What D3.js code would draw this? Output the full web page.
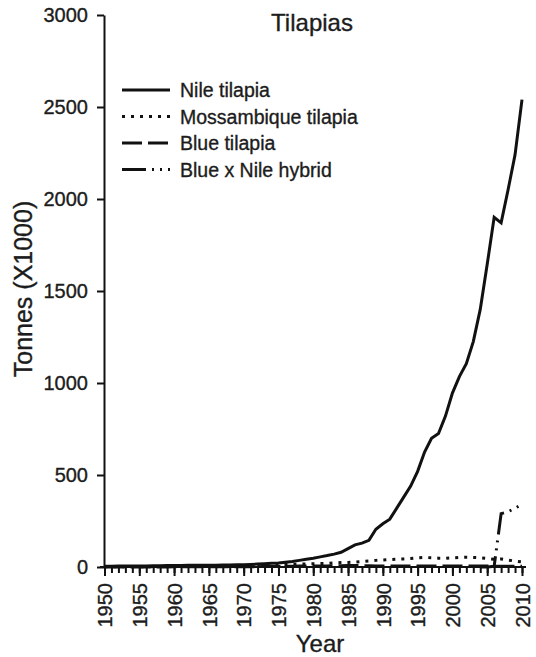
<!DOCTYPE html>
<html>
<head>
<meta charset="utf-8">
<script src="https://cdn.jsdelivr.net/npm/d3@7"></script>
<style>
  body { margin: 0; background: #fff; }
  text { font-family: "Liberation Sans", Arial, sans-serif; fill: #1c1c1c; stroke: #1c1c1c; stroke-width: 0.35px; }
  .axis path, .axis line { stroke: #111; stroke-width: 2px; }
  .line { fill: none; stroke: #111; stroke-width: 3px; }
</style>
</head>
<body>
<div id="chart"></div>
<script>
// Data (tonnes x1000)
var years = [1950,1951,1952,1953,1954,1955,1956,1957,1958,1959,
  1960,1961,1962,1963,1964,1965,1966,1967,1968,1969,
  1970,1971,1972,1973,1974,1975,1976,1977,1978,1979,
  1980,1981,1982,1983,1984,1985,1986,1987,1988,1989,
  1990,1991,1992,1993,1994,1995,1996,1997,1998,1999,
  2000,2001,2002,2003,2004,2005,2006,2007,2008,2009,2010]

var nile = [4,4,5,5,5,6,6,7,7,8,
  8,8,9,9,10,10,10,11,11,12,
  12,14,16,18,20,22,26,30,36,42,
  48,55,62,70,80,100,120,130,145,205,
  235,260,320,380,440,520,625,700,725,820,
  945,1035,1105,1225,1400,1645,1900,1870,2050,2240,2540]

var mossambique = [1,1,1,1,2,2,2,2,3,3,
  3,3,4,4,4,5,5,5,6,6,
  7,8,9,10,10,12,13,14,16,17,
  18,19,20,22,24,25,27,30,33,36,
  38,40,42,44,46,50,52,50,48,47,
  50,52,53,52,50,46,42,44,38,32,28]

var blue = [0,0,0,0,0,0,0,0,0,0,
  1,1,1,1,1,1,1,1,1,1,
  2,2,2,3,3,3,4,4,5,5,
  5,6,6,7,7,8,8,7,7,6,
  6,6,5,5,5,5,5,5,5,5,
  5,5,5,5,5,5,4,4,4,4,4]

var hybridYears = [2004,2005,2006,2007,2008,2009,2010]
var hybrid = [0,0,4,290,300,320,340]

var yTicks = [0,500,1000,1500,2000,2500,3000]
var xLabelTicks = [1950,1955,1960,1965,1970,1975,1980,1985,1990,1995,2000,2005,2010]

var seriesNames = ["Nile tilapia", "Mossambique tilapia", "Blue tilapia", "Blue x Nile hybrid"]
var dashes = [null, "3,6", "20,6", "24,6,2,6,2,6"]

var width = 536,
  height = 657,
  margin = {top: 15, right: 14, bottom: 90, left: 104}

var svg = d3.select("#chart")
  .append("svg")
  .attr("width", width)
  .attr("height", height)

// Scales
var xScale = d3.scaleLinear()
  .domain([1950, 2010])
  .range([margin.left + 0.5, width - margin.right])

var yScale = d3.scaleLinear()
  .domain([0, 3000])
  .range([height - margin.bottom, margin.top])

// Y axis
svg.append("g")
  .attr("class", "axis y-axis")
  .attr("transform", `translate(${margin.left},0)`)
  .call(d3.axisLeft(yScale).tickValues(yTicks).tickSize(7).tickSizeOuter(0).tickPadding(9).tickFormat(d => d))
  .selectAll("text")
  .style("font-size", "20px")

// X axis, minor ticks every year
svg.append("g")
  .attr("class", "axis x-axis-minor")
  .attr("transform", `translate(0,${height - margin.bottom})`)
  .call(d3.axisBottom(xScale).tickValues(years).tickSize(6).tickSizeOuter(0).tickFormat(""))
  .select(".domain")
  .attr("d", `M${margin.left - 4},0H${width - margin.right + 4}`)

// X axis, labelled ticks every 5 years
svg.append("g")
  .attr("class", "axis x-axis")
  .attr("transform", `translate(0,${height - margin.bottom})`)
  .call(d3.axisBottom(xScale).tickValues(xLabelTicks).tickSize(9).tickSizeOuter(0).tickFormat(d => d))
  .call(g => g.select(".domain").remove())
  .selectAll("text")
  .style("font-size", "20px")
  .attr("text-anchor", "end")
  .attr("transform", "rotate(-90)")
  .attr("x", -16)
  .attr("y", 0)
  .attr("dy", "0.36em")

// Lines
var line = d3.line()
  .x(d => xScale(d[0]))
  .y(d => yScale(d[1]))

var seriesData = [
  d3.zip(years, nile),
  d3.zip(years, mossambique),
  d3.zip(years, blue),
  d3.zip(hybridYears, hybrid)
]

svg.append("g")
  .attr("class", "lines")
  .selectAll("path")
  .data(seriesData)
  .enter()
  .append("path")
  .attr("class", "line")
  .attr("d", d => line(d))
  .style("stroke-dasharray", (d, i) => dashes[i])

// Titles
svg.append("text")
  .attr("x", 312)
  .attr("y", 31)
  .attr("text-anchor", "middle")
  .style("font-size", "24px")
  .text("Tilapias")

svg.append("text")
  .attr("x", 320)
  .attr("y", 652)
  .attr("text-anchor", "middle")
  .style("font-size", "24px")
  .text("Year")

svg.append("text")
  .attr("transform", "translate(32,289) rotate(-90)")
  .attr("text-anchor", "middle")
  .style("font-size", "25px")
  .text("Tonnes (X1000)")

// Legend
var legend = svg.append("g")
  .attr("class", "legend")
  .attr("transform", "translate(122,90)")

var rows = legend.selectAll("g")
  .data(seriesNames)
  .enter()
  .append("g")
  .attr("transform", (d, i) => `translate(0,${i * 26.5})`)

rows.append("line")
  .attr("class", "line")
  .attr("x1", 0)
  .attr("x2", 48)
  .attr("y1", 0)
  .attr("y2", 0)
  .style("stroke-dasharray", (d, i) => dashes[i])

rows.append("text")
  .attr("x", 58)
  .attr("y", 7)
  .style("font-size", "19.5px")
  .text(d => d)
</script>
</body>
</html>
